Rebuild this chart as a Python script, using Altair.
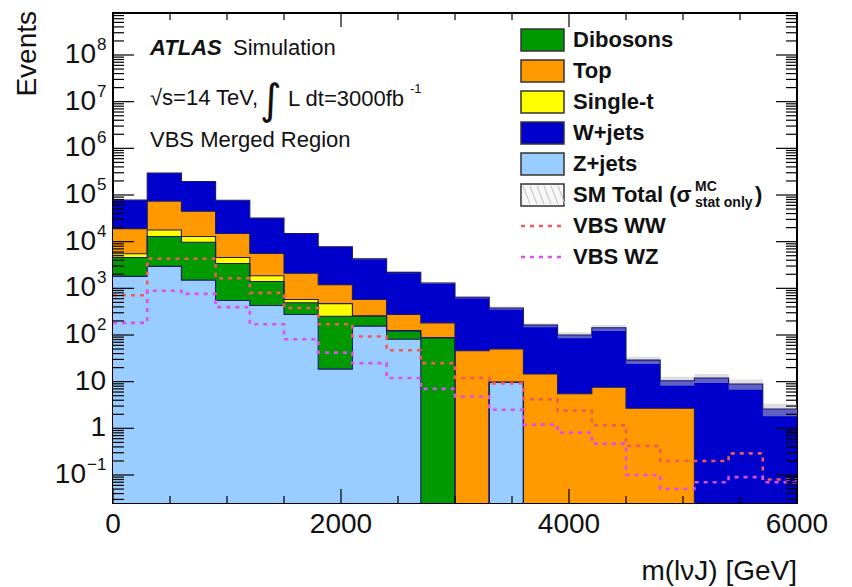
import altair as alt
import pandas as pd

FONT = "Liberation Sans"

# ---------------- data ----------------
bin_lo = [0, 300, 600, 900, 1200, 1500, 1800, 2100, 2400, 2700,
          3000, 3300, 3600, 3900, 4200, 4500, 4800, 5100, 5400, 5700]
BIN_W = 300
X_MAX = 6000

z_jets   = [1800, 2950, 1500, 550, 430, 275, 18.6, 155, 81, 0,
            0, 9.7, 0, 0, 0, 0, 0, 0, 0, 0]
dibosons = [2770, 9950, 8200, 2850, 970, 215, 234, 98, 41, 88,
            0, 0, 0, 0, 0, 0, 0, 0, 0, 0]
single_t = [930, 4900, 3200, 1170, 460, 85, 217, 5, 2, 0,
            0, 0, 0, 0, 0, 0, 0, 0, 0, 0]
top      = [13500, 56200, 32000, 10400, 3740, 1525, 730, 317, 152, 94,
            46, 40.3, 14.6, 5.5, 7.6, 2.7, 2.7, 0, 0, 0]
w_jets   = [59000, 223000, 150000, 62000, 26400, 12900, 6600, 3725, 1925, 1118,
            599, 330, 148, 94.5, 135, 26.3, 7.8, 12, 8.9, 2.6]
sm_stat_rel = [0.01, 0.01, 0.01, 0.01, 0.01, 0.02, 0.02, 0.03, 0.04, 0.05,
               0.06, 0.08, 0.10, 0.15, 0.15, 0.18, 0.22, 0.22, 0.25, 0.30]
vbs_ww = [710, 4300, 4300, 1650, 800, 380, 170, 93, 47, 25,
          12, 9.2, 4.2, 2.4, 1.16, 0.42, 0.2, 0.2, 0.29, 0.08]
vbs_wz = [182, 890, 760, 395, 170, 81, 42, 25, 12, 7,
          4.8, 2.5, 1.2, 0.81, 0.47, 0.1, 0.05, 0.07, 0.09, 0.07]

legend_labels = ["Dibosons", "Top", "Single-t", "W+jets", "Z+jets", "SM Total (σ", "VBS WW", "VBS WZ"]

COL = {"Z+jets": "#99ccff", "Dibosons": "#009a00", "Single-t": "#ffff00",
       "Top": "#ff9900", "W+jets": "#0000cc"}
C_WW = "#f05a5a"
C_WZ = "#dd4ff0"
EDGE = "#1a1a66"

YMIN = 10 ** -1.6
YMAX = 10 ** 8.9
TINY = 1e-4
W, H = 684, 490

xs = alt.Scale(domain=[0, X_MAX], nice=False, zero=False)
ys = alt.Scale(type="log", domain=[YMIN, YMAX], nice=False)

# cumulative stack, bottom -> top
stack_order = [("Z+jets", z_jets), ("Dibosons", dibosons), ("Single-t", single_t),
               ("Top", top), ("W+jets", w_jets)]
cum = {}
running = [0.0] * len(bin_lo)
for name, vals in stack_order:
    running = [r + v for r, v in zip(running, vals)]
    cum[name] = running


def step_df(vals):
    xv = bin_lo + [X_MAX]
    vv = list(vals) + [vals[-1]]
    return pd.DataFrame({"x": xv, "v": [max(v, TINY) for v in vv], "base": TINY})


layers = []
# fills, drawn from the total down
for name in ["W+jets", "Top", "Single-t", "Dibosons", "Z+jets"]:
    layers.append(
        alt.Chart(step_df(cum[name])).mark_area(
            interpolate="step-after", color=COL[name], clip=True, opacity=1
        ).encode(
            x=alt.X("x:Q", scale=xs, axis=None),
            y=alt.Y("v:Q", scale=ys, axis=None),
            y2="base:Q",
        )
    )

# stat band on total
tot = cum["W+jets"]
band = pd.DataFrame({
    "x": bin_lo + [X_MAX],
    "hi": [t * (1 + r) for t, r in zip(tot, sm_stat_rel)] + [tot[-1] * (1 + sm_stat_rel[-1])],
    "lo": [t * (1 - r) for t, r in zip(tot, sm_stat_rel)] + [tot[-1] * (1 - sm_stat_rel[-1])],
})
layers.append(
    alt.Chart(band).mark_area(interpolate="step-after", color="#bdbdbd", opacity=0.5, clip=True)
    .encode(x=alt.X("x:Q", scale=xs, axis=None), y=alt.Y("hi:Q", scale=ys, axis=None), y2="lo:Q")
)

# outlines
for name in ["W+jets", "Top", "Single-t", "Dibosons", "Z+jets"]:
    layers.append(
        alt.Chart(step_df(cum[name])).mark_line(
            interpolate="step-after", color=EDGE, strokeWidth=1.1, clip=True
        ).encode(x=alt.X("x:Q", scale=xs, axis=None), y=alt.Y("v:Q", scale=ys, axis=None))
    )

# VBS signals
for vals, c in [(vbs_ww, C_WW), (vbs_wz, C_WZ)]:
    layers.append(
        alt.Chart(step_df(vals)).mark_line(
            interpolate="step-after", color=c, strokeWidth=2.6, strokeDash=[4, 5], clip=True
        ).encode(x=alt.X("x:Q", scale=xs, axis=None), y=alt.Y("v:Q", scale=ys, axis=None))
    )

# ---------------- ticks (inside, ROOT style) ----------------
y_major = [10.0 ** k for k in range(-1, 9)]
y_minor = [m * 10.0 ** k for k in range(-2, 9) for m in range(2, 10)]
y_minor = [v for v in y_minor if YMIN < v < YMAX]
for vals, ln in [(y_major, 21), (y_minor, 11)]:
    d = pd.DataFrame({"v": vals})
    layers.append(alt.Chart(d).mark_rule(color="black", strokeWidth=1.2).encode(
        y=alt.Y("v:Q", scale=ys, axis=None), x=alt.value(0), x2=alt.value(ln)))
    layers.append(alt.Chart(d).mark_rule(color="black", strokeWidth=1.2).encode(
        y=alt.Y("v:Q", scale=ys, axis=None), x=alt.value(W - ln), x2=alt.value(W)))

x_major = [0, 2000, 4000, 6000]
x_minor = [500, 1000, 1500, 2500, 3000, 3500, 4500, 5000, 5500]
for vals, ln in [(x_major, 14), (x_minor, 7)]:
    d = pd.DataFrame({"v": vals})
    layers.append(alt.Chart(d).mark_rule(color="black", strokeWidth=1.2).encode(
        x=alt.X("v:Q", scale=xs, axis=None), y=alt.value(H - ln), y2=alt.value(H)))
    layers.append(alt.Chart(d).mark_rule(color="black", strokeWidth=1.2).encode(
        x=alt.X("v:Q", scale=xs, axis=None), y=alt.value(0), y2=alt.value(ln)))

# ---------------- tick labels ----------------
LBL = 28
d = pd.DataFrame({"v": x_major, "t": ["0", "2000", "4000", "6000"]})
layers.append(alt.Chart(d).mark_text(font=FONT, fontSize=LBL, align="center", baseline="top", color="#111")
              .encode(x=alt.X("v:Q", scale=xs, axis=None), y=alt.value(H + 8), text="t:N"))

d = pd.DataFrame({"v": [1e2, 1e3, 1e4, 1e5, 1e6, 1e7, 1e8], "e": ["2", "3", "4", "5", "6", "7", "8"]})
layers.append(alt.Chart(d).mark_text(font=FONT, fontSize=LBL, align="right", baseline="middle", color="#111", text="10")
              .encode(y=alt.Y("v:Q", scale=ys, axis=None), x=alt.value(-17)))
layers.append(alt.Chart(d).mark_text(font=FONT, fontSize=17, align="left", baseline="middle", dy=-10, color="#111")
              .encode(y=alt.Y("v:Q", scale=ys, axis=None), x=alt.value(-16), text="e:N"))
d = pd.DataFrame({"v": [10, 1], "t": ["10", "1"]})
layers.append(alt.Chart(d).mark_text(font=FONT, fontSize=LBL, align="right", baseline="middle", color="#111")
              .encode(y=alt.Y("v:Q", scale=ys, axis=None), x=alt.value(-7), text="t:N"))
d = pd.DataFrame({"v": [0.1], "e": ["\u22121"]})
layers.append(alt.Chart(d).mark_text(font=FONT, fontSize=LBL, align="right", baseline="middle", color="#111", text="10")
              .encode(y=alt.Y("v:Q", scale=ys, axis=None), x=alt.value(-27)))
layers.append(alt.Chart(d).mark_text(font=FONT, fontSize=17, align="left", baseline="middle", dy=-10, color="#111")
              .encode(y=alt.Y("v:Q", scale=ys, axis=None), x=alt.value(-26), text="e:N"))


def txt(s, x, y, size=22, weight="normal", style="normal", align="left", angle=0, dy=0, color="#111", font=FONT):
    return alt.Chart(pd.DataFrame({"t": [s]})).mark_text(
        font=font, fontSize=size, fontWeight=weight, fontStyle=style, align=align,
        baseline="middle", angle=angle, dy=dy, color=color
    ).encode(x=alt.value(x), y=alt.value(y), text="t:N")


# axis titles
layers.append(txt("Events", -85, -2, size=28, align="right", angle=270))
layers.append(txt("m(lνJ) [GeV]", W, 559, size=28, align="right"))

# annotations
layers.append(txt("ATLAS", 37, 35, size=22, weight="bold", style="italic"))
layers.append(txt("Simulation", 120, 35, size=22))
layers.append(txt("√s=14 TeV,", 37, 85, size=22))
layers.append(txt("∫", 147, 88, size=42, font="DejaVu Sans"))
layers.append(txt("L dt=3000fb", 175, 86, size=22))
layers.append(txt("-1", 297, 76, size=13))
layers.append(txt("VBS Merged Region", 37, 127, size=22))

# ---------------- legend ----------------
LX0, LX1 = 408, 451
LY0, LDY = 27, 31
fills = [COL["Dibosons"], COL["Top"], COL["Single-t"], COL["W+jets"], COL["Z+jets"], "#f7f7f7"]
for i, f in enumerate(fills):
    yc = LY0 + i * LDY
    layers.append(
        alt.Chart(pd.DataFrame({"a": [0]})).mark_rect(fill=f, stroke="#333", strokeWidth=1.5).encode(
            x=alt.value(LX0), x2=alt.value(LX1), y=alt.value(yc - 11), y2=alt.value(yc + 11))
    )
# hatching in SM total box
yc = LY0 + 5 * LDY
for k in range(6):
    x0 = LX0 + 2 + k * 7
    layers.append(alt.Chart(pd.DataFrame({"a": [0]})).mark_rule(color="#c0c0c0", strokeWidth=1).encode(
        x=alt.value(x0), x2=alt.value(x0 + 7), y=alt.value(yc - 9), y2=alt.value(yc + 9)))
for i, c in [(6, C_WW), (7, C_WZ)]:
    yc = LY0 + i * LDY
    layers.append(alt.Chart(pd.DataFrame({"a": [0]})).mark_rule(color=c, strokeWidth=2.6, strokeDash=[4, 5]).encode(
        x=alt.value(LX0), x2=alt.value(LX1), y=alt.value(yc)))
for i, lab in enumerate(legend_labels):
    layers.append(txt(lab, 460, LY0 + i * LDY, size=22, weight="bold"))
yc = LY0 + 5 * LDY
layers.append(txt("MC", 582, yc, size=14, weight="bold", dy=-8))
layers.append(txt("stat only", 582, yc, size=14, weight="bold", dy=8))
layers.append(txt(")", 642, yc, size=22, weight="bold"))

chart = alt.layer(*layers).properties(
    width=W, height=H,
    padding={"left": 113, "top": 13, "right": 55, "bottom": 84},
    autosize=alt.AutoSizeParams(type="none"),
    background="white",
).configure_view(stroke="black", strokeWidth=2)

chart.save("out.html", embed_options={"renderer": "svg", "actions": False})
